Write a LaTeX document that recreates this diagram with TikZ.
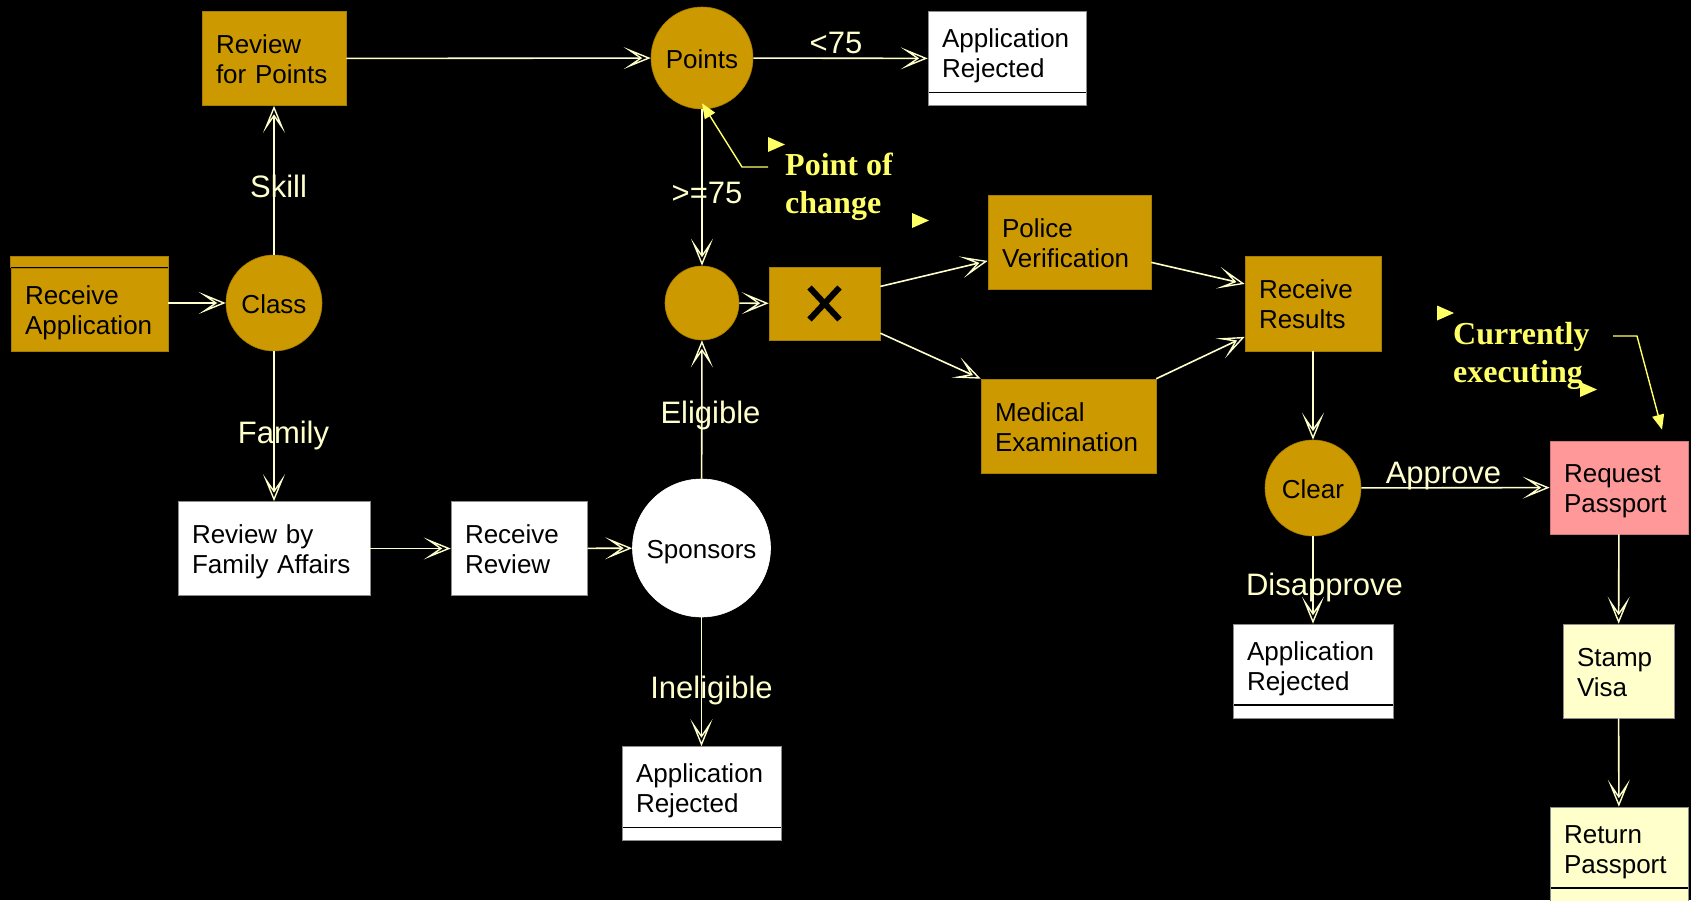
\documentclass[tikz,border=0pt]{standalone}
\usepackage{fontspec}
\setmainfont{Liberation Sans}
\newfontfamily\notefont{Liberation Serif}
\usetikzlibrary{arrows.meta,calc}
\definecolor{gold}{HTML}{CC9900}
\definecolor{goldedge}{HTML}{A87E00}
\definecolor{cream}{HTML}{FFFFCC}
\definecolor{notecol}{HTML}{FFFF66}
\definecolor{passpink}{HTML}{FF9999}
\definecolor{paleyellow}{HTML}{FFFFCC}
\definecolor{boxedge}{HTML}{8C8C8C}
\tikzset{
  actbox/.style={
    rectangle,
    fill=gold,
    draw=goldedge,
    line width=0.6pt,
    font=\fontsize{26pt}{30pt}\selectfont,
    align=left,
    inner xsep=14pt,
    inner ysep=0pt,
    minimum height=94pt,
    text height=19pt,
    text depth=28.5pt,
    text width=#1
  },
  plainbox/.style={fill=white, draw=boxedge},
  passbox/.style={fill=passpink, draw=passpink!80!black},
  visabox/.style={fill=paleyellow, draw=boxedge},
  endbox/.style={text depth=41pt, path picture={
    \draw[black, line width=1.4pt]
      ([yshift=13pt]path picture bounding box.south west) --
      ([yshift=13pt]path picture bounding box.south east);}},
  branch/.style={
    circle,
    fill=gold,
    draw=goldedge,
    line width=0.6pt,
    inner sep=0pt,
    minimum size=#1,
    text height=20pt,
    text depth=0pt,
    font=\fontsize{26pt}{30pt}\selectfont
  },
  flow/.style={draw=cream, line width=1.6pt,
    -{Stealth[open, length=27pt, width=22pt, inset=16pt, line width=1.4pt]}},
  flowlabel/.style={font=\fontsize{31pt}{36pt}\selectfont, text=cream, inner sep=0pt, anchor=base},
  note/.style={font=\notefont\bfseries\fontsize{32pt}{38pt}\selectfont, text=notecol,
    align=left, inner sep=0pt, anchor=west},
  noteline/.style={draw=notecol, line width=1.4pt, -{Triangle[length=15pt, width=12pt]}}
}
\newcommand{\notehandle}[2]{%
  \fill[notecol] (#1,#2-7.5) -- (#1+17,#2) -- (#1,#2+7.5) -- cycle;
}

\begin{document}
\begin{tikzpicture}[x=1pt,y=-1pt]
\useasboundingbox (0,0) rectangle (1691,900);
\fill[black] (0,0) rectangle (1691,900);

% skill branch
\node[actbox=129pt, minimum height=83pt] (recvapp) at (89.5,309.5) {Receive\\Application};
\filldraw[fill=gold, draw=goldedge, line width=0.6pt] (recvapp.north west) rectangle ([yshift=11pt]recvapp.north east);
\draw[black, line width=1.2pt] (recvapp.north west) -- (recvapp.north east);
\node[branch=96pt] (class) at (274,303) {Class};
\node[actbox=116pt] (reviewpts) at (274,58.5) {Review\\for Points};
\node[branch=102pt] (points) at (702,58) {Points};
\node[actbox=130pt, plainbox, endbox] (rejtop) at (1007,58.5) {Application\\Rejected};

% family branch
\node[actbox=164pt, plainbox] (famreview) at (274,548.5) {Review by\\Family Affairs};
\node[actbox=108pt, plainbox] (recvreview) at (519,548.5) {Receive\\Review};
\node[branch=138pt, fill=white, draw=white] (sponsors) at (701.5,548) {Sponsors};
\node[actbox=131pt, plainbox, endbox] (rejmid) at (701.5,793.5) {Application\\Rejected};

% checks
\node[branch=74pt] (merge) at (702,303) {};
\node[actbox=83pt, inner xsep=0pt, minimum width=111pt, minimum height=73pt,
  path picture={
    \draw[black, line width=6pt]
      ([shift={(-15,-16)}]path picture bounding box.center) -- ([shift={(15,16)}]path picture bounding box.center)
      ([shift={(-15,16)}]path picture bounding box.center) -- ([shift={(15,-16)}]path picture bounding box.center);}]
  (xbox) at (824.5,303.5) {};
\node[actbox=135pt] (police) at (1069.5,242) {Police\\Verification};
\node[actbox=147pt] (medical) at (1068.5,426) {Medical\\Examination};
\node[actbox=108pt, minimum height=95pt] (results) at (1313,303.5) {Receive\\Results};
\node[branch=96pt] (clear) at (1313,488) {Clear};
\node[actbox=132pt, plainbox, endbox] (rejright) at (1313,671) {Application\\Rejected};

% passport
\node[actbox=110pt, passbox, minimum height=93pt] (request) at (1619,487.5) {Request\\Passport};
\node[actbox=83pt, visabox] (stamp) at (1618.5,671) {Stamp\\Visa};
\node[actbox=110pt, visabox, endbox] (retpass) at (1619,854) {Return\\Passport};

\draw[flow] (recvapp.east |- class.west) -- (class.west);
\draw[flow] (class) -- (reviewpts);
\draw[flow] (reviewpts) -- (points);
\draw[flow] (points) -- (rejtop);
\draw[flow] (points) -- (merge);
\draw[flow] (merge) -- (xbox);
\draw[flow] (xbox.17) -- (police.193);
\draw[flow] (xbox.-28) -- (medical.north west);
\draw[flow] (police.-14) -- (results.164);
\draw[flow] (medical.north east) -- (results.206);
\draw[flow] (results) -- (clear);
\draw[flow] (clear) -- (request);
\draw[flow] (clear) -- (rejright);
\draw[flow] (request) -- (stamp);
\draw[flow] (stamp) -- (retpass);
\draw[flow] (class) -- (famreview);
\draw[flow] (famreview) -- (recvreview);
\draw[flow] (recvreview) -- (sponsors);
\draw[flow] (sponsors) -- (merge);
\draw[flow] (sponsors) -- (rejmid);

\node[flowlabel] (lskill) at (278.5,197) {Skill};
\node[flowlabel] (lfamily) at (283.5,443) {Family};
\node[flowlabel] (lless) at (836,53) {<75};
\node[flowlabel] (lmore) at (707,203) {>=75};
\node[flowlabel] (leligible) at (710.5,423) {Eligible};
\node[flowlabel] (lineligible) at (711.5,698) {Ineligible};
\node[flowlabel] (lapprove) at (1443.5,483) {Approve};
\node[flowlabel] (ldisapprove) at (1324.5,595) {Disapprove};

% callouts
\node[note] (changenote) at (785,187) {Point of\\change};
\node[note] (runnote) at (1453,356) {Currently\\executing};
\coordinate (changefoot) at (768,167);
\coordinate (runfoot) at (1613,336);
\draw[noteline] (changefoot) -- (742,167) -- ([yshift=6pt]points.south);
\draw[noteline] (runfoot) -- (1637,336) -- ([shift={(43,-11)}]request.north);
\notehandle{768}{144.5}
\notehandle{912}{220.5}
\notehandle{1437}{313}
\notehandle{1580}{389.5}

\end{tikzpicture}
\end{document}
